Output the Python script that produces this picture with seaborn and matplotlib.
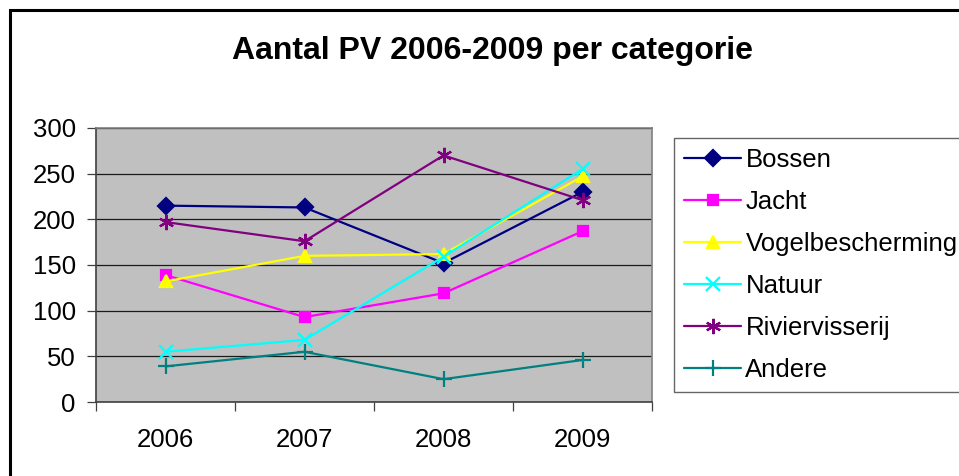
import numpy as np
import pandas as pd
import matplotlib
matplotlib.use("Agg")
import matplotlib.pyplot as plt
import seaborn as sns
from matplotlib.patches import Rectangle
from matplotlib.ticker import FixedLocator

# data
years = ["2006", "2007", "2008", "2009"]
bossen = [215, 213, 152, 230]
jacht = [139, 93, 119, 187]
vogelbescherming = [132, 160, 162, 247]
natuur = [55, 68, 159, 255]
riviervisserij = [197, 176, 270, 221]
andere = [39, 55, 25, 46]

series_names = ["Bossen", "Jacht", "Vogelbescherming", "Natuur", "Riviervisserij", "Andere"]
series_values = [bossen, jacht, vogelbescherming, natuur, riviervisserij, andere]
colors = ["#000080", "#FF00FF", "#FFFF00", "#00FFFF", "#800080", "#008080"]
markers = ["D", "s", "^", "x", (6, 2, 0), "+"]
msizes = [8.5, 7.5, 9, 10, 11, 11]

sns.set_style("ticks")
plt.rcParams["font.family"] = ["Liberation Sans", "DejaVu Sans"]
plt.rcParams["text.color"] = "black"
plt.rcParams["xtick.labelcolor"] = "black"
plt.rcParams["ytick.labelcolor"] = "black"

fig = plt.figure(figsize=(9.59, 4.76), dpi=100)
ax = fig.add_axes([96 / 959, 1 - 402 / 476, (652 - 96) / 959, (402 - 128) / 476])
ax.set_facecolor("#C0C0C0")

for name, vals, c, m, ms in zip(series_names, series_values, colors, markers, msizes):
    df = pd.DataFrame({"year": years, "value": vals})
    sns.lineplot(data=df, x="year", y="value", ax=ax, color=c, marker=m,
                 markersize=ms, linewidth=1.6, markeredgecolor=c,
                 markeredgewidth=1.6, label=name)

ax.set_xlim(-0.5, 3.5)
ax.set_ylim(0, 300)
ax.set_yticks(np.arange(0, 301, 50))
ax.yaxis.grid(True, color="#1a1a1a", linewidth=0.9)
ax.set_axisbelow(True)
ax.set_xlabel("")
ax.set_ylabel("")

ax.xaxis.set_minor_locator(FixedLocator([-0.5, 0.5, 1.5, 2.5, 3.5]))
ax.tick_params(axis="x", which="major", length=0, pad=19, labelsize=18.5)
ax.tick_params(axis="x", which="minor", length=6.5, width=0.9, color="#404040")
ax.tick_params(axis="y", length=6.5, width=0.9, color="#404040", pad=8, labelsize=18.5)

for s in ax.spines.values():
    s.set_color("#808080")
    s.set_linewidth(1.2)
ax.spines["left"].set_color("#404040")
ax.spines["bottom"].set_color("#404040")

fig.text(492 / 959, 1 - 51 / 476, "Aantal PV 2006-2009 per categorie",
         ha="center", va="center", fontsize=23, fontweight="bold", color="black")

leg = ax.legend(loc="upper left", bbox_to_anchor=(674 / 959, 1 - 138 / 476),
                bbox_transform=fig.transFigure, borderaxespad=0, fontsize=18.5,
                frameon=True, fancybox=False, edgecolor="#404040",
                handlelength=2.2, handletextpad=0.18, labelspacing=0.7,
                borderpad=0.4)
leg.get_frame().set_linewidth(1.0)

# outer chart border
fig.patches.append(Rectangle((10 / 959, -0.1), 1.2, 1.1 - 10 / 476,
                             transform=fig.transFigure, fill=False,
                             edgecolor="black", linewidth=2.2))

fig.savefig("out.png", dpi=100)
